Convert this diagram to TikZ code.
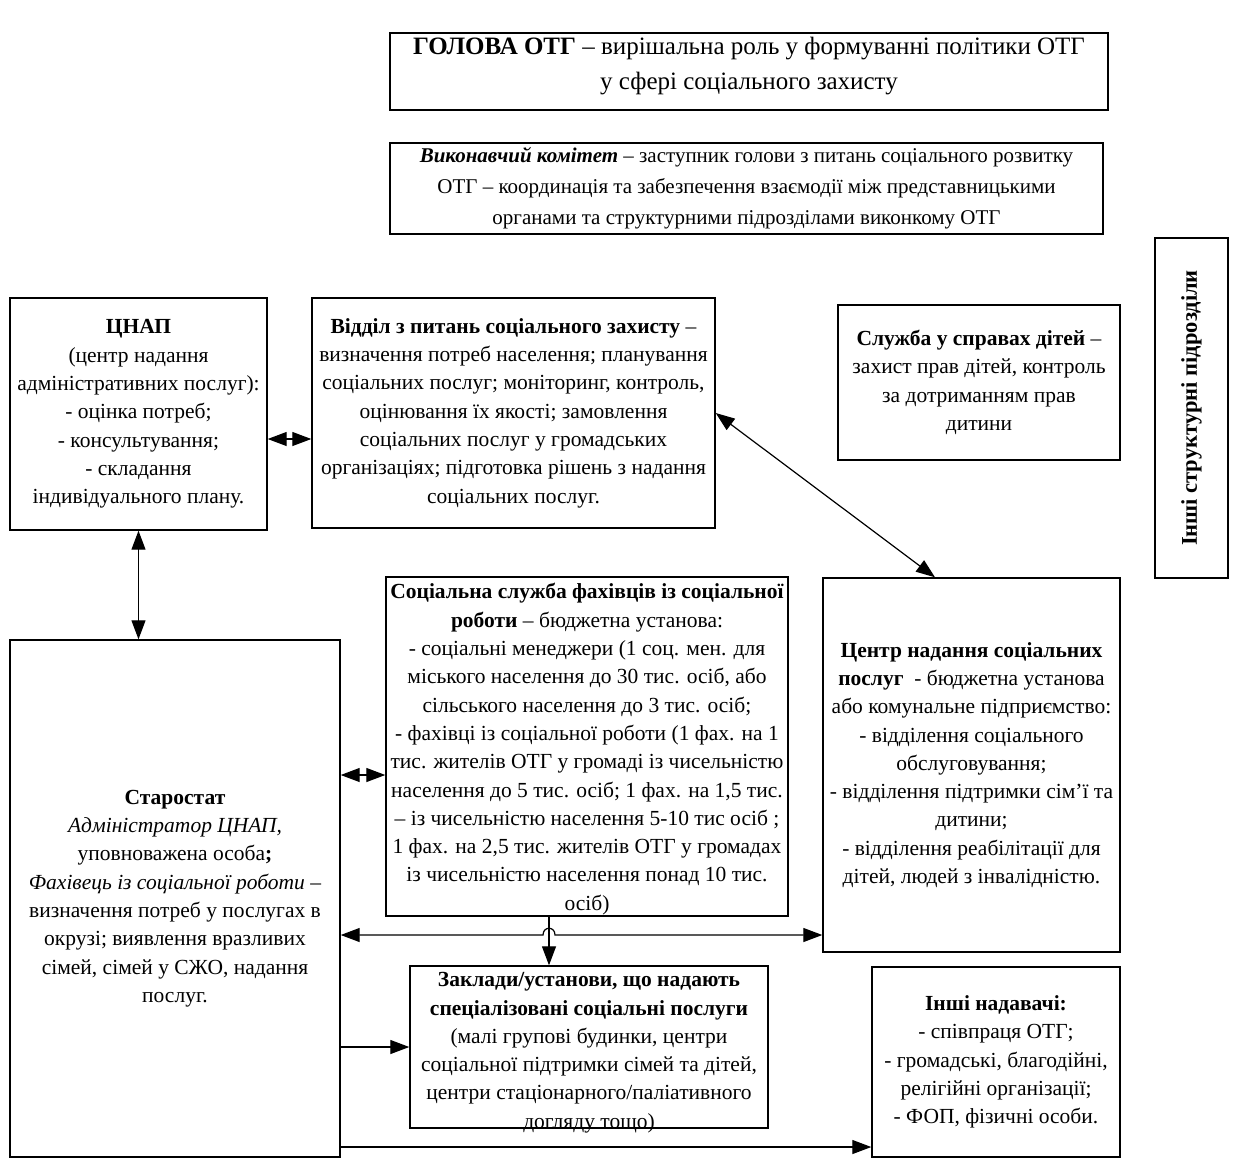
\documentclass[tikz,border=0pt]{standalone}
\usepackage{fontspec}
\setmainfont{Liberation Serif}
\usetikzlibrary{arrows.meta,calc}
\tikzset{
  box/.style={draw, line width=1.4pt, align=center, inner sep=0pt},
  txt/.style={align=center, inner sep=0pt},
  bodyfont/.style={font=\fontsize{21.5}{28.3}\selectfont},
  conn/.style={line width=1.2pt},
  tipA/.style={-{Triangle[length=19pt,width=14pt]}},
  tipAB/.style={{Triangle[length=19pt,width=14pt]}-{Triangle[length=19pt,width=14pt]}},
}
\begin{document}
\begin{tikzpicture}[x=1pt,y=-1pt]
\useasboundingbox (0,0) rectangle (1233,1157);

% top level
\node[box, minimum width=718, minimum height=77] (head) at (749,71.5) {};
\node[txt, anchor=north, font=\fontsize{25}{35}\selectfont] (headt) at ([yshift=-5]head.north)
  {\textbf{ГОЛОВА ОТГ} – вирішальна роль у формуванні політики ОТГ\\у сфері соціального захисту};

\node[box, minimum width=713, minimum height=91, font=\fontsize{21}{31}\selectfont]
  (exec) at (746.5,188.5)
  {\textbf{\textit{Виконавчий комітет}} – заступник голови з питань соціального розвитку\\
   ОТГ – координація та забезпечення взаємодії між представницькими\\
   органами та структурними підрозділами виконкому ОТГ};

\node[box, minimum width=73, minimum height=340] (other) at (1191.5,408) {};
\node[txt, rotate=90, font=\fontsize{22.5}{26}\selectfont\bfseries] (othert) at (other.center)
  {Інші структурні підрозділи};

% second row
\node[box, bodyfont, minimum width=257, minimum height=232] (cnap) at (138.5,414)
  {\textbf{ЦНАП}\\(центр надання\\адміністративних послуг):\\- оцінка потреб;\\- консультування;\\- складання\\індивідуального плану.};

\node[box, bodyfont, minimum width=403, minimum height=230] (vid) at (513.5,413)
  {\textbf{Відділ з питань соціального захисту} –\\визначення потреб населення; планування\\соціальних послуг; моніторинг, контроль,\\оцінювання їх якості; замовлення\\соціальних послуг у громадських\\організаціях; підготовка рішень з надання\\соціальних послуг.};

\node[box, bodyfont, minimum width=282, minimum height=155] (child) at (979,382.5)
  {\textbf{Служба у справах дітей} –\\захист прав дітей, контроль\\за дотриманням прав\\дитини};

% third row
\node[box, minimum width=402, minimum height=339] (soc) at (587,746.5) {};
\node[txt, bodyfont, anchor=north] (soct) at ([yshift=-7]soc.north)
  {\textbf{Соціальна служба фахівців із соціальної}\\
   \textbf{роботи} – бюджетна установа:\\
   - соціальні менеджери (1 соц. мен. для\\
   міського населення до 30 тис. осіб, або\\
   сільського населення до 3 тис. осіб;\\
   - фахівці із соціальної роботи (1 фах. на 1\\
   тис. жителів ОТГ у громаді із чисельністю\\
   населення до 5 тис. осіб; 1 фах. на 1,5 тис.\\
   – із чисельністю населення 5-10 тис осіб ;\\
   1 фах. на 2,5 тис. жителів ОТГ у громадах\\
   із чисельністю населення понад 10 тис.\\
   осіб)};

\node[box, bodyfont, minimum width=297, minimum height=374] (centr) at (971.5,765)
  {\textbf{Центр надання соціальних}\\
   \textbf{послуг}~ - бюджетна установа\\
   або комунальне підприємство:\\
   - відділення соціального\\
   обслуговування;\\
   - відділення підтримки сім’ї та\\
   дитини;\\
   - відділення реабілітації для\\
   дітей, людей з інвалідністю.};

\node[box, bodyfont, minimum width=330, minimum height=517] (star) at (175,898.5)
  {\textbf{Старостат}\\
   \textit{Адміністратор ЦНАП,}\\
   уповноважена особа\textbf{;}\\
   \textit{Фахівець із соціальної роботи} –\\
   визначення потреб у послугах в\\
   окрузі; виявлення вразливих\\
   сімей, сімей у СЖО, надання\\
   послуг.};

% bottom row
\node[box, minimum width=358, minimum height=162] (zakl) at (589,1047) {};
\node[txt, bodyfont, anchor=north] (zaklt) at ([yshift=-7]zakl.north)
  {\textbf{Заклади/установи, що надають}\\
   \textbf{спеціалізовані соціальні послуги}\\
   (малі групові будинки, центри\\
   соціальної підтримки сімей та дітей,\\
   центри стаціонарного/паліативного\\
   догляду тощо)};

\node[box, bodyfont, minimum width=248, minimum height=190] (prov) at (996,1062)
  {\textbf{Інші надавачі:}\\- співпраця ОТГ;\\- громадські, благодійні,\\релігійні організації;\\- ФОП, фізичні особи.};

% connector levels
\coordinate (l1) at (0,439);
\coordinate (l2) at (0,775);
\coordinate (hop) at (549,935);
\coordinate (l4) at (0,1147);
\coordinate (dg) at (935,0);

% connectors
\draw[conn, tipAB] (cnap.east |- l1) -- (vid.west |- l1);
\draw[conn, tipAB] (cnap.south) -- (star.north -| cnap.south);
\draw[conn, tipAB] (vid.east) -- (centr.north -| dg);
\draw[conn, tipAB] (star.east |- l2) -- (soc.west |- l2);
\draw[conn, tipA] (soc.south -| hop) -- (zakl.north -| hop);
\draw[conn, tipAB] (star.east |- hop) -- ([xshift=-6]hop)
  .. controls ([xshift=-6,yshift=9]hop) and ([xshift=6,yshift=9]hop) .. ([xshift=6]hop)
  -- (centr.west |- hop);
\draw[conn, tipA] (star.east |- zakl.west) -- (zakl.west);
\draw[conn, tipA] (star.east |- l4) -- (prov.west |- l4);
\end{tikzpicture}
\end{document}
